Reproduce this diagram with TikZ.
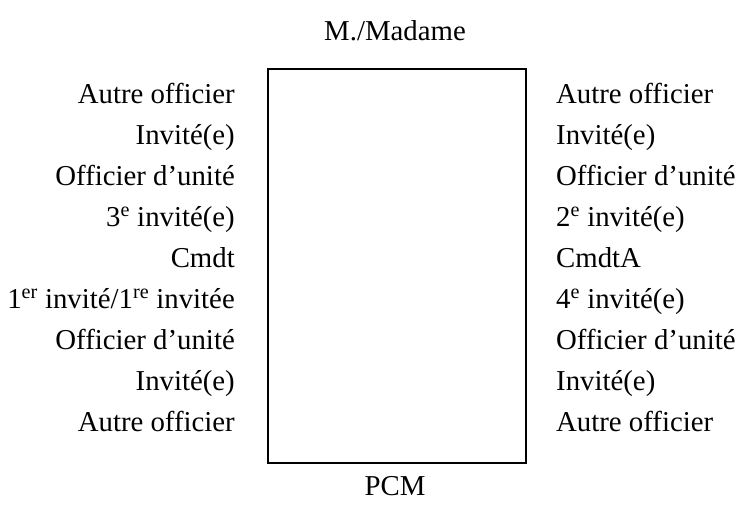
\documentclass[tikz,border=0pt]{standalone}
\usepackage{fontspec}
\setmainfont{Liberation Serif}[Ligatures=TeX]
\usetikzlibrary{positioning}

\begin{document}
\begin{tikzpicture}[x=1pt,y=-1pt,
  every node/.style={font=\rmfamily\fontsize{28.8}{30}\selectfont, inner sep=0pt},
  leftname/.style={anchor=base east},
  rightname/.style={anchor=base west}]

% canvas
\useasboundingbox (0,0) rectangle (742,504);

% row spacing
\def\dy{41}

% table
\node[draw, line width=1.5pt, minimum width=258pt, minimum height=394pt,
  anchor=north west] (table) at (267,68) {};

% ends of the table
\node[anchor=base] (head) at (395,40) {M./Madame};
\node[anchor=base] (foot) at (395,495) {PCM};

% left side
\node[leftname] (l1) at (235,103) {Autre officier};
\node[leftname] (l2) at (235,103+\dy) {Invité(e)};
\node[leftname] (l3) at (235,103+2*\dy) {Officier d’unité};
\node[leftname] (l4) at (235,103+3*\dy) {3\textsuperscript{e} invité(e)};
\node[leftname] (l5) at (235,103+4*\dy) {Cmdt};
\node[leftname] (l6) at (235,103+5*\dy) {1\textsuperscript{er} invité/1\textsuperscript{re} invitée};
\node[leftname] (l7) at (235,103+6*\dy) {Officier d’unité};
\node[leftname] (l8) at (235,103+7*\dy) {Invité(e)};
\node[leftname] (l9) at (235,103+8*\dy) {Autre officier};

% right side
\node[rightname] (r1) at (556,103) {Autre officier};
\node[rightname] (r2) at (556,103+\dy) {Invité(e)};
\node[rightname] (r3) at (556,103+2*\dy) {Officier d’unité};
\node[rightname] (r4) at (556,103+3*\dy) {2\textsuperscript{e} invité(e)};
\node[rightname] (r5) at (556,103+4*\dy) {CmdtA};
\node[rightname] (r6) at (556,103+5*\dy) {4\textsuperscript{e} invité(e)};
\node[rightname] (r7) at (556,103+6*\dy) {Officier d’unité};
\node[rightname] (r8) at (556,103+7*\dy) {Invité(e)};
\node[rightname] (r9) at (556,103+8*\dy) {Autre officier};

\end{tikzpicture}
\end{document}
